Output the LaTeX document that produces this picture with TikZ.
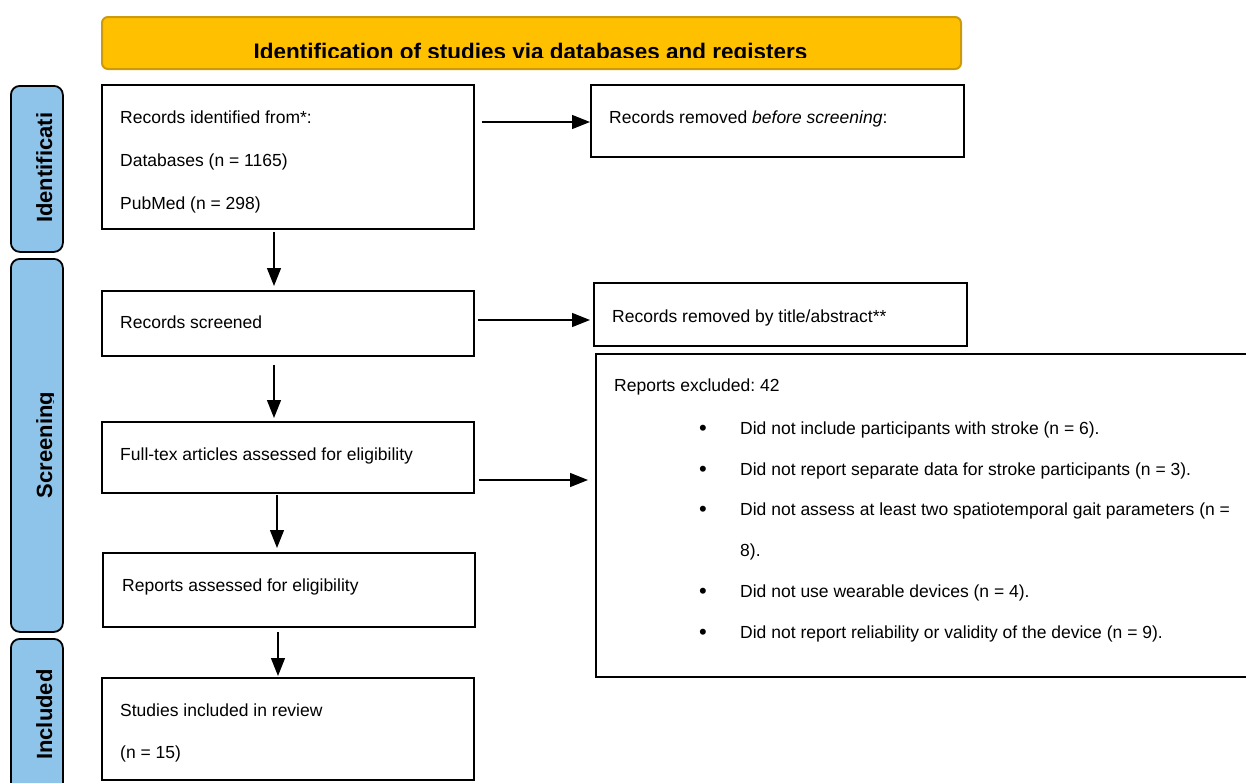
\documentclass[tikz,border=0pt]{standalone}
\usepackage{fontspec}
\setmainfont{Liberation Sans}
\usetikzlibrary{arrows.meta,calc}
\definecolor{sideblue}{RGB}{142,196,233}
\definecolor{bannerfill}{RGB}{255,192,0}
\definecolor{bannerline}{RGB}{205,155,10}
\frenchspacing
\begin{document}
\begin{tikzpicture}[x=1pt,y=-1pt,
  box/.style={draw=black, line width=1.8pt, fill=white, inner sep=0pt, anchor=north west},
  side/.style={draw=black, line width=1.8pt, fill=sideblue, rounded corners=9pt, inner sep=0pt, anchor=north west},
  sidetxt/.style={inner sep=0pt, rotate=90, font=\bfseries\fontsize{22}{26}\selectfont},
  txt/.style={anchor=base west, inner sep=0pt, font=\fontsize{17.5}{21}\selectfont},
  bul/.style={anchor=base, inner sep=0pt, font=\fontsize{22}{26}\selectfont},
  arr/.style={line width=1.3pt, -{Triangle[length=18pt,width=14pt]}}]
\useasboundingbox (0,0) rectangle (1246,782);
\fill[white] (0,0) rectangle (1246,782);

% banner
\node[draw=bannerline, fill=bannerfill, line width=2pt, rounded corners=6pt, inner sep=0pt, anchor=north west,
      minimum width=859pt, minimum height=52pt] (T) at (101,16) {};
\begin{scope}
  \clip (101,16) rectangle (960,57.5);
  \node[anchor=base, inner sep=0pt, font=\bfseries\fontsize{22.5}{27}\selectfont] (Tt) at (530.5,59)
    {Identification of studies via databases and registers};
\end{scope}

% side bars
\node[side, minimum width=52pt, minimum height=166pt] (S1) at (10,85) {};
\node[side, minimum width=52pt, minimum height=373pt] (S2) at (10,258) {};
\node[side, minimum width=52pt, minimum height=160pt] (S3) at (10,638) {};
\begin{scope}
  \clip (10,112) rectangle (53,251);
  \node[sidetxt, anchor=base west] (S1t) at (52,223) {Identification};
\end{scope}
\begin{scope}
  \clip (10,258) rectangle (53.5,631);
  \node[sidetxt, anchor=base] (S2t) at (52,445) {Screening};
\end{scope}
\begin{scope}
  \clip (10,638) rectangle (53.5,782);
  \node[sidetxt, anchor=base west] (S3t) at (52,760) {Included};
\end{scope}

% boxes
\node[box, minimum width=372pt, minimum height=144pt] (A) at (101,84) {};
\node[box, minimum width=373pt, minimum height=72pt] (B) at (590,84) {};
\node[box, minimum width=372pt, minimum height=65pt] (C) at (101,290) {};
\node[box, minimum width=373pt, minimum height=63pt] (D) at (593,282) {};
\node[box, minimum width=660pt, minimum height=323pt] (E) at (595,353) {};
\node[box, minimum width=372pt, minimum height=71pt] (F) at (101,421) {};
\node[box, minimum width=372pt, minimum height=74pt] (G) at (102,552) {};
\node[box, minimum width=372pt, minimum height=102pt] (H) at (101,677) {};

% texts
\node[txt] (A1) at (120,123) {Records identified from*:};
\node[txt] (A2) at (120,166) {Databases (n = 1165)};
\node[txt] (A3) at (120,209) {PubMed (n = 298)};
\node[txt] (B1) at (609,123) {Records removed \textit{before screening}:};
\node[txt] (C1) at (120,328) {Records screened};
\node[txt] (D1) at (612,322) {Records removed by title/abstract**};
\node[txt] (E0) at (614,391) {Reports excluded: 42};
\node[bul] (Eb1) at (703,435) {•};
\node[txt] (E1) at (740,434) {Did not include participants with stroke (n = 6).};
\node[bul] (Eb2) at (703,476) {•};
\node[txt] (E2) at (740,475) {Did not report separate data for stroke participants (n = 3).};
\node[bul] (Eb3) at (703,516) {•};
\node[txt] (E3) at (740,515) {Did not assess at least two spatiotemporal gait parameters (n =};
\node[txt] (E3b) at (740,556) {8).};
\node[bul] (Eb4) at (703,598) {•};
\node[txt] (E4) at (740,597) {Did not use wearable devices (n = 4).};
\node[bul] (Eb5) at (703,639) {•};
\node[txt] (E5) at (740,638) {Did not report reliability or validity of the device (n = 9).};
\node[txt] (F1) at (120,460) {Full-tex articles assessed for eligibility};
\node[txt] (G1) at (122,591) {Reports assessed for eligibility};
\node[txt] (H1) at (120,716) {Studies included in review};
\node[txt] (H2) at (120,758) {(n = 15)};

% arrows
\draw[arr] ($(A.north east)+(7,38)$) -- ($(B.north west)+(0,38)$);
\draw[arr] ($(A.south west)+(173,2)$) -- ($(C.north west)+(173,-4)$);
\draw[arr] ($(C.north east)+(3,30)$) -- ($(D.north west)+(-3,38)$);
\draw[arr] ($(C.south west)+(173,8)$) -- ($(F.north west)+(173,-3)$);
\draw[arr] ($(F.north east)+(4,59)$) -- ($(E.north west)+(-7,127)$);
\draw[arr] ($(F.south west)+(176,1)$) -- ($(G.north west)+(175,-4)$);
\draw[arr] ($(G.south west)+(176,4)$) -- ($(H.north west)+(177,-1)$);
\end{tikzpicture}
\end{document}
